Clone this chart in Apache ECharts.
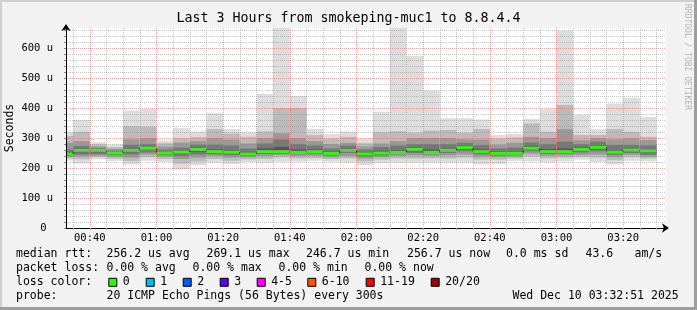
<!DOCTYPE html>
<html><head><meta charset="utf-8">
<script src="https://cdn.jsdelivr.net/npm/echarts@6/dist/echarts.min.js"></script>
<style>html,body{margin:0;padding:0;background:#f2f2f2}#c{width:697px;height:310px}</style>
</head><body><div id="c"></div>
<script>
// ---------------- data ----------------
const chartTitle = 'Last 3 Hours from smokeping-muc1 to 8.8.4.4';
const yAxisName = 'Seconds';
const rangeStart = '00:32:51';
const rangeEnd = '03:32:51';
const xTickLabels = ['00:40','01:00','01:20','01:40','02:00','02:20','02:40','03:00','03:20'];
const yTickValues = [0,100,200,300,400,500,600];
// end time of each 5-minute step (300 s)
const slotEnds = ['00:35','00:40','00:45','00:50','00:55','01:00','01:05','01:10','01:15','01:20','01:25','01:30',
  '01:35','01:40','01:45','01:50','01:55','02:00','02:05','02:10','02:15','02:20','02:25','02:30',
  '02:35','02:40','02:45','02:50','02:55','03:00','03:05','03:10','03:15','03:20','03:25','03:30'];
// sorted ping ranks (microseconds), 20 pings per step
const ping01 = [225,215,229,223,212,224,220,196,210,218,213,220,218,221,221,224,221,218,209,216,218,218,218,218,218,212,214,223,222,219,222,228,220,212,224,222];
const ping03 = [232,229,236,231,223,236,230,215,222,230,224,229,230,235,232,233,230,232,222,228,232,232,232,232,235,228,228,232,238,232,234,237,235,226,236,232];
const ping05 = [237,238,241,238,235,245,238,230,235,240,235,236,240,243,240,241,236,240,232,236,240,242,240,242,245,238,236,238,248,241,242,244,245,236,244,238];
const ping07 = [241,245,246,243,245,252,243,240,245,246,243,240,247,248,246,248,242,250,238,242,246,250,246,250,256,246,242,243,256,247,248,252,256,244,250,244];
const ping09 = [244,253,253,246,253,260,246,248,255,251,249,243,251,251,249,251,245,255,242,246,249,256,249,255,262,251,245,246,261,251,251,257,263,249,256,250];
const medianRtt = [247,259,259,250,259,266,250,253,262,255,253,246.7,255,255,252,255,249,259,247,250,252,262,252,259,268,255,249,249,266,255,255,262,269.1,253,260,256.7];
const ping12 = [252,265,262,252,265,270,254,258,268,262,260,252,265,270,262,262,255,265,252,258,260,268,262,265,274,262,255,255,272,263,265,268,275,260,266,260];
const ping14 = [262,274,266,258,277,280,262,268,278,278,275,265,282,295,280,275,265,275,262,270,275,280,280,280,284,276,265,268,285,280,288,280,288,277,277,275];
const ping16 = [284,290,272,264,296,300,272,285,290,300,295,282,300,316,300,290,280,284,272,282,290,300,300,300,296,295,278,284,304,300,330,293,300,296,299,293];
const ping18 = [307,321,279,270,340,338,283,300,303,330,315,304,322,400,400,310,298,304,283,320,323,318,325,327,318,330,298,302,349,321,410,310,310,330,321,304];
const ping20 = [320,360,286,279,391,396,292,333,322,383,330,319,447,700,440,331,313,322,298,388,690,574,458,366,366,362,310,314,364,396,657,377,330,415,434,370];

// legend texts
const legendRow1 = ['median rtt:','256.2 us avg','269.1 us max','246.7 us min','256.7 us now','0.0 ms sd','43.6','am/s'];
const legendRow2 = ['packet loss:','0.00 % avg','0.00 % max','0.00 % min','0.00 % now'];
const lossHeading = 'loss color:';
const lossLabels = ['0','1','2','3','4-5','6-10','11-19','20/20'];
const lossColors = ['#26ff00','#00b8ff','#0059ff','#5e00ff','#ff00ff','#ff5500','#ff0000','#a10000'];
const legendRow4 = ['probe:','20 ICMP Echo Pings (56 Bytes) every 300s','Wed Dec 10 03:32:51 2025'];
const sideText = 'RRDTOOL / TOBI OETIKER';

// ---------------- layout / style ----------------
const MONO = 'DejaVu Sans Mono';
const row1X = [16,106.5,206.5,306,407,506,585.5,634.5];
const row2X = [16,106.5,192.5,278.5,364.5];
const swatchX = [108.3,145.7,182.7,219.7,256.7,307.3,365.7,430.7];
const row4X = [16,106.5,512.5];
const rowY = [254.3,268.3,282.3,296.3];
const smokeShades = ['#dddddd','#bbbbbb','#999999','#777777','#555555'];

// x values are seconds since midnight
function hm(s){ const p = s.split(':').map(Number); return (p[0]*60 + p[1])*60 + (p[2]||0); }
const STEP = 300;
const xMin = hm(rangeStart), xMax = hm(rangeEnd);

const data = slotEnds.map((s,i)=>[hm(s)-STEP, hm(s), ping01[i],ping03[i],ping05[i],ping07[i],ping09[i],medianRtt[i],ping12[i],ping14[i],ping16[i],ping18[i],ping20[i]]);

const GRIDC = 'rgba(140,140,140,0.5)';
const MGRIDC = 'rgba(235,90,90,0.55)';

function renderItem(params, api){
  const cs = params.coordSys;
  const clipBox = {x: cs.x, y: cs.y, width: cs.width, height: cs.height};
  const t0 = api.value(0), t1 = api.value(1);
  const v = []; for (let k=0;k<11;k++) v.push(api.value(2+k));
  const kids = [];
  for (let b=0;b<5;b++){
    const lo = api.coord([t0, v[b]]), hi = api.coord([t1, v[10-b]]);
    const r = echarts.graphic.clipRectByRect({x: lo[0], y: hi[1], width: hi[0]-lo[0], height: lo[1]-hi[1]}, clipBox);
    if (r) kids.push({type:'rect', shape:r, style:{fill: smokeShades[b]}});
  }
  const m0 = api.coord([t0, v[5]]), m1 = api.coord([t1, v[5]]);
  const idx = params.dataIndex;
  if (idx > 0){
    const pm = api.coord([t0, medianRtt[idx-1]]);
    kids.push({type:'line', shape:{x1:m0[0], y1:pm[1], x2:m0[0], y2:m0[1]}, style:{stroke:'#202020', lineWidth:1}});
  }
  const gx0 = Math.max(m0[0], cs.x);
  kids.push({type:'rect', shape:{x:gx0, y:m0[1]-1.5, width:m1[0]-gx0, height:3}, style:{fill: lossColors[0]}});
  return {type:'group', children: kids};
}

// graphic (frame + legend texts)
const graphics = [];
graphics.push({type:'rect', shape:{x:0,y:0,width:697,height:2}, style:{fill:'#cfcfcf'}, z:100});
graphics.push({type:'rect', shape:{x:0,y:0,width:2,height:310}, style:{fill:'#cfcfcf'}, z:100});
graphics.push({type:'rect', shape:{x:0,y:307,width:697,height:3}, style:{fill:'#9e9e9e'}, z:100});
graphics.push({type:'rect', shape:{x:694,y:0,width:3,height:310}, style:{fill:'#9e9e9e'}, z:100});
function txt(x,y,s,size,color){ return {type:'text', x:x, y:y, style:{text:s, font: size+'px "'+MONO+'"', fill: color||'#000', align:'left', verticalAlign:'middle'}, z:100}; }
legendRow1.forEach((s,i)=>graphics.push(txt(row1X[i], rowY[0], s, 11.5)));
legendRow2.forEach((s,i)=>graphics.push(txt(row2X[i], rowY[1], s, 11.5)));
graphics.push(txt(16, rowY[2], lossHeading, 11.5));
lossLabels.forEach((s,i)=>{
  graphics.push({type:'rect', shape:{x:swatchX[i]+0.5, y:rowY[2]-4, width:8, height:8}, style:{fill:lossColors[i], stroke:'#000', lineWidth:1}, z:100});
  graphics.push(txt(swatchX[i]+14.5, rowY[2], s, 11.5));
});
legendRow4.forEach((s,i)=>graphics.push(txt(row4X[i], rowY[3], s, 11.5)));
graphics.push({type:'text', x:687, y:4, rotation:-Math.PI/2, style:{text:sideText, font:'8px "'+MONO+'"', fill:'#b4b4b4', align:'left', verticalAlign:'middle'}, z:100});

const minorTicks = slotEnds.map(hm);
const labelTicks = xTickLabels.map(hm);
function fmtTime(sec){ const h = Math.floor(sec/3600), m = Math.floor((sec%3600)/60); return String(h).padStart(2,'0')+':'+String(m).padStart(2,'0'); }

const chart = echarts.init(document.getElementById('c'), null, {renderer:'canvas'});
chart.setOption({
  animation: false,
  backgroundColor: '#f2f2f2',
  title: {text: chartTitle, left: 'center', top: 12, padding: 0,
    textStyle: {fontFamily: MONO, fontSize: 13.3, fontWeight: 'normal', color: '#000'}},
  grid: {left: 66, top: 28, width: 600, height: 200, show: true, backgroundColor: '#ffffff', borderWidth: 0,
    containLabel: false, outerBoundsMode: 'none'},
  xAxis: {
    type: 'value', min: xMin, max: xMax, z: 5,
    axisLine: {show: true, lineStyle: {color: '#000', width: 1}, symbol: ['none','arrow'], symbolSize: [7,7], symbolOffset: [0,3]},
    axisTick: {show: true, length: 2, customValues: minorTicks, lineStyle: {color: '#aaa'}},
    axisLabel: {customValues: labelTicks, interval: 0, hideOverlap: false, margin: 5, fontFamily: MONO, fontSize: 10.5, color: '#000',
      formatter: function(val){ return fmtTime(val); }},
    splitLine: {show: true, showMinLine: true, showMaxLine: true, lineStyle: {type: [1,1], width: 1, color: [GRIDC, MGRIDC, GRIDC, GRIDC]}}
  },
  yAxis: {
    type: 'value', min: 0, max: 667, interval: 20, z: 5,
    name: yAxisName, nameLocation: 'middle', nameRotate: 90, nameGap: 50, nameMoveOverlap: false,
    nameTextStyle: {fontFamily: MONO, fontSize: 11.5, color: '#000'},
    axisLine: {show: true, lineStyle: {color: '#000', width: 1}, symbol: ['none','arrow'], symbolSize: [7,7], symbolOffset: [0,4]},
    axisTick: {show: true, length: 2, lineStyle: {color: '#888'}},
    axisLabel: {interval: 0, margin: 13, fontFamily: MONO, fontSize: 10.5, color: '#000', showMaxLabel: false,
      formatter: function(v){ if (yTickValues.indexOf(v) < 0) return ''; return v === 0 ? '0 ' : v + ' u'; }},
    splitLine: {show: true, showMinLine: true, showMaxLine: false, lineStyle: {type: [1,1], width: 1, color: [MGRIDC, GRIDC, GRIDC, GRIDC, GRIDC]}}
  },
  series: [{
    type: 'custom', z: 2, renderItem: renderItem, data: data,
    encode: {x: [0,1], y: [2,3,4,5,6,7,8,9,10,11,12]}
  }],
  graphic: graphics
});
</script>
</body></html>
